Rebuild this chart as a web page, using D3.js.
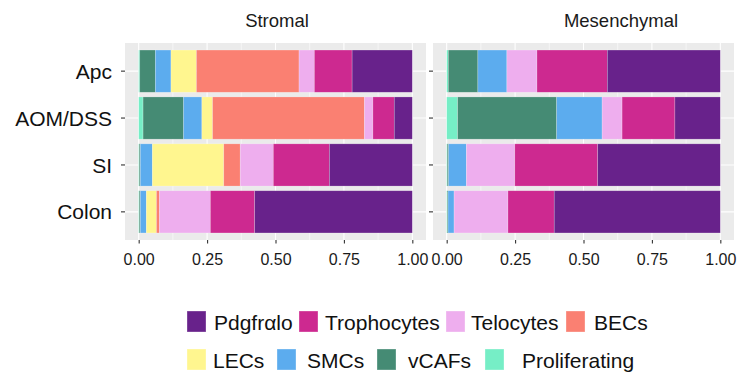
<!DOCTYPE html>
<html>
<head>
<meta charset="utf-8">
<script src="https://cdn.jsdelivr.net/npm/d3@7/dist/d3.min.js"></script>
<style>
  body { margin: 0; background: #fff; }
  svg { display: block; font-family: "Liberation Sans", Arial, sans-serif; }
</style>
</head>
<body>
<svg id="chart" width="738" height="375"></svg>
<script>
// Proportion of each cell type per sample, stacked left→right in CELL_TYPES order.
const CATEGORIES = ["Apc", "AOM/DSS", "SI", "Colon"];
const CELL_TYPES = ["Proliferating", "vCAFs", "SMCs", "LECs", "BECs", "Telocytes", "Trophocytes", "Pdgfrαlo"];
const LEGEND_ORDER = ["Pdgfrαlo", "Trophocytes", "Telocytes", "BECs", "LECs", "SMCs", "vCAFs", "Proliferating"];

const STROMAL = [
  [0.004, 0.057, 0.057, 0.093, 0.375, 0.056, 0.138, 0.220], // Apc
  [0.016, 0.148, 0.067, 0.039, 0.555, 0.031, 0.078, 0.066], // AOM/DSS
  [0.002, 0.004, 0.044, 0.261, 0.060, 0.121, 0.205, 0.303], // SI
  [0.002, 0.004, 0.022, 0.037, 0.011, 0.186, 0.162, 0.576], // Colon
];
const MESENCHYMAL = [
  [0.006, 0.108, 0.106, 0, 0, 0.110, 0.257, 0.413],
  [0.040, 0.362, 0.166, 0, 0, 0.073, 0.193, 0.166],
  [0.002, 0.005, 0.065, 0, 0, 0.177, 0.303, 0.448],
  [0.002, 0.003, 0.022, 0, 0, 0.197, 0.169, 0.607],
];
const X_TICKS = [0, 0.25, 0.5, 0.75, 1];

const COLORS = {
  "Pdgfrαlo": "#68228B",
  "Trophocytes": "#CD2990",
  "Telocytes": "#EEAEEE",
  "BECs": "#FA8072",
  "LECs": "#FFF68F",
  "SMCs": "#5CACEE",
  "vCAFs": "#458B74",
  "Proliferating": "#76EEC6",
};

// layout
const PANELS = [
  { title: "Stromal", data: STROMAL, x0: 125, x1: 426, titleX: 277, yLabels: true },
  { title: "Mesenchymal", data: MESENCHYMAL, x0: 433, x1: 734, titleX: 621, yLabels: false },
];
const TOP = 43, BOTTOM = 240;
// legend key / label x positions (legend is laid out loosely in the source)
const LEGEND_KEY_X = [187, 299, 446, 566, 187, 277, 377, 485];
const LEGEND_TXT_X = [214, 325, 471, 594, 213, 307, 408, 522];
const LEGEND_ROW_Y = [311, 349];

const svg = d3.select("#chart");

const y = d3.scaleBand()
  .domain(CATEGORIES)
  .range([TOP, BOTTOM])
  .paddingInner(0.1)
  .paddingOuter(0.15);

const stack = d3.stack().keys(CELL_TYPES);

PANELS.forEach((p) => {
  const x = d3.scaleLinear().domain([-0.05, 1.05]).range([p.x0, p.x1]);
  const g = svg.append("g");

  // panel background + grid
  g.append("rect")
    .attr("x", p.x0).attr("y", TOP)
    .attr("width", p.x1 - p.x0).attr("height", BOTTOM - TOP)
    .attr("fill", "#EBEBEB");

  const minor = d3.range(0.125, 1, 0.25);
  g.selectAll("line.minor").data(minor).join("line")
    .attr("class", "minor")
    .attr("x1", (d) => x(d)).attr("x2", (d) => x(d))
    .attr("y1", TOP).attr("y2", BOTTOM)
    .attr("stroke", "#fff").attr("stroke-width", 0.55);
  g.selectAll("line.vmajor").data(X_TICKS).join("line")
    .attr("class", "vmajor")
    .attr("x1", (d) => x(d)).attr("x2", (d) => x(d))
    .attr("y1", TOP).attr("y2", BOTTOM)
    .attr("stroke", "#fff").attr("stroke-width", 1.1);
  g.selectAll("line.hmajor").data(CATEGORIES).join("line")
    .attr("class", "hmajor")
    .attr("x1", p.x0).attr("x2", p.x1)
    .attr("y1", (d) => y(d) + y.bandwidth() / 2)
    .attr("y2", (d) => y(d) + y.bandwidth() / 2)
    .attr("stroke", "#fff").attr("stroke-width", 1.1);

  // stacked bars
  const rows = p.data.map((vals, i) => {
    const o = { cat: CATEGORIES[i] };
    CELL_TYPES.forEach((k, j) => { o[k] = vals[j]; });
    return o;
  });
  const series = stack(rows);

  g.selectAll("g.layer").data(series).join("g")
    .attr("class", "layer")
    .attr("fill", (d) => COLORS[d.key])
    .selectAll("rect").data((d) => d).join("rect")
    .attr("x", (d) => x(d[0]))
    .attr("width", (d) => Math.max(0, x(d[1]) - x(d[0])))
    .attr("y", (d) => y(d.data.cat))
    .attr("height", y.bandwidth())
    .attr("stroke", "#fff")
    .attr("stroke-opacity", 0.35)
    .attr("stroke-width", 0.6);

  // x axis
  const xa = g.append("g")
    .attr("transform", `translate(0,${BOTTOM})`)
    .call(d3.axisBottom(x).tickValues(X_TICKS).tickFormat(d3.format(".2f")).tickSize(3.5).tickPadding(10));
  xa.select(".domain").remove();
  xa.selectAll(".tick line").attr("stroke", "#333").attr("stroke-width", 1.1);
  xa.selectAll(".tick text")
    .attr("fill", "#1a1a1a")
    .style("font-size", "16px")
    .style("font-family", "'Liberation Sans', Arial, sans-serif");

  // y axis
  const ya = g.append("g")
    .attr("transform", `translate(${p.x0},0)`)
    .call(d3.axisLeft(y).tickSize(4).tickPadding(9));
  ya.select(".domain").remove();
  ya.selectAll(".tick line").attr("stroke", "#333").attr("stroke-width", 1.1);
  if (p.yLabels) {
    ya.selectAll(".tick text")
      .attr("fill", "#111")
      .attr("dy", "0.36em")
      .style("font-size", "21px")
      .style("font-family", "'Liberation Sans', Arial, sans-serif");
  } else {
    ya.selectAll(".tick text").remove();
  }

  // panel title
  svg.append("text")
    .attr("x", p.titleX).attr("y", 27)
    .attr("text-anchor", "middle")
    .attr("fill", "#1a1a1a")
    .style("font-size", "18.5px")
    .text(p.title);
});

// legend
const lg = svg.append("g");
LEGEND_ORDER.forEach((k, i) => {
  const row = i < 4 ? 0 : 1;
  const ky = LEGEND_ROW_Y[row];
  lg.append("rect")
    .attr("x", LEGEND_KEY_X[i]).attr("y", ky)
    .attr("width", 19).attr("height", 21)
    .attr("fill", COLORS[k])
    .attr("stroke", "#fff").attr("stroke-opacity", 0.4).attr("stroke-width", 0.8);
  lg.append("text")
    .attr("x", LEGEND_TXT_X[i]).attr("y", ky + 19)
    .attr("fill", "#111")
    .style("font-size", "21px")
    .text(k);
});
</script>
</body>
</html>
